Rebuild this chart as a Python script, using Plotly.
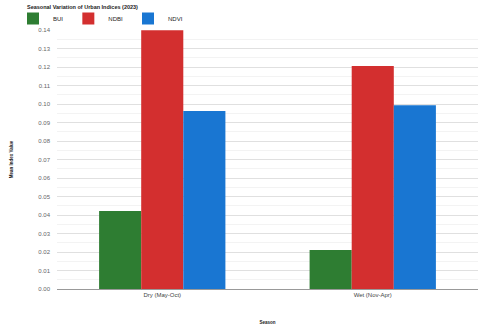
import plotly.graph_objs as go

seasons = ['Dry (May-Oct)', 'Wet (Nov-Apr)']
bui = [0.0422, 0.0211]
ndbi = [0.1399, 0.1205]
ndvi = [0.0962, 0.0993]

series = [
    ('BUI', bui, '#2e7d32'),
    ('NDBI', ndbi, '#d32f2f'),
    ('NDVI', ndvi, '#1976d2'),
]

traces = [
    go.Bar(
        name=name,
        x=seasons,
        y=vals,
        marker=dict(color=color, line=dict(width=0)),
        )
    for name, vals, color in series
    ]

layout = go.Layout(
    width=480,
    height=327,
    font=dict(family='Liberation Sans, Arial, sans-serif', size=6, color='#444'),
    paper_bgcolor='white',
    plot_bgcolor='white',
    margin=dict(l=57, r=2, t=30, b=38, autoexpand=False),
    barmode='group',
    bargap=0.4,
    bargroupgap=0,
    title=dict(
        text='<b>Seasonal Variation of Urban Indices (2023)</b>',
        font=dict(size=5.5, color='#222'),
        x=27 / 480,
        xanchor='left',
        xref='container',
        y=1 - 7 / 327,
        yanchor='middle',
        yref='container',
        ),
    legend=dict(
        orientation='h',
        xref='container',
        yref='container',
        x=13 / 480,
        xanchor='left',
        y=1 - 4 / 327,
        yanchor='top',
        font=dict(size=6, color='#222'),
        itemwidth=30,
        tracegroupgap=0,
        bgcolor='rgba(0,0,0,0)',
        ),
    xaxis=dict(
        title=dict(text='<b>Season</b>', font=dict(size=4.5, color='#222'), standoff=23),
        tickfont=dict(size=6, color='#444'),
        showline=True,
        linecolor='#999',
        linewidth=1,
        ticks='',
        ),
    yaxis=dict(
        title=dict(text='<b>Mean Index Value</b>', font=dict(size=4.5, color='#222'), standoff=24),
        range=[0, 0.14],
        dtick=0.01,
        tickformat='.2f',
        tickfont=dict(size=6, color='#666'),
        gridcolor='#e0e0e0',
        gridwidth=1,
        zeroline=False,
        minor=dict(dtick=0.005, showgrid=True, gridcolor='#f3f3f3', gridwidth=1),
        ticklabelstandoff=6,
        ),
    )

fig = go.Figure(data=traces, layout=layout)
fig.write_html(
    'out.html',
    config={'displayModeBar': False},
    post_script="document.body.style.margin='0px';",
    )
